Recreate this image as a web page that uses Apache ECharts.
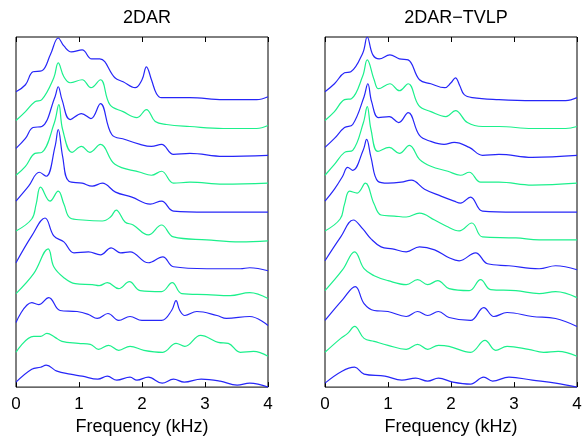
<!DOCTYPE html>
<html>
<head>
<meta charset="utf-8">
<script src="https://cdn.jsdelivr.net/npm/echarts@6/dist/echarts.min.js"></script>
<style>html,body{margin:0;padding:0;background:#fff}#c{width:585px;height:441px}</style>
</head>
<body>
<div id="c"></div>
<script>
// Frequency axis ticks (kHz)
const freqTicks = [0, 1, 2, 3, 4];
const panelTitles = ['2DAR', '2DAR\u2212TVLP'];
const xName = 'Frequency (kHz)';
// Spectra, stacked top (01) to bottom (11): [frequency kHz, level]
const dar01 = [[0,297],[0.15,304],[0.27,317],[0.41,318],[0.55,335],[0.67,351],[0.76,343],[0.88,337],[1.05,339],[1.2,330],[1.33,330],[1.57,311],[1.7,307],[1.89,301],[2.0,309],[2.07,322],[2.15,309],[2.23,295],[2.31,291],[2.76,291],[3.29,289],[3.82,289],[4,292]];
const dar02 = [[0,268],[0.15,277],[0.3,287],[0.41,289],[0.6,311],[0.67,326],[0.76,312],[0.86,306],[1.05,309],[1.19,301],[1.34,309],[1.49,284],[1.7,277],[1.92,271],[2.07,279],[2.21,267],[2.39,264],[2.76,262],[3.29,260],[3.82,260],[4,263]];
const dar03 = [[0,240],[0.15,250],[0.27,261],[0.41,262],[0.62,292],[0.67,302],[0.73,289],[0.86,269],[1.04,275],[1.19,270],[1.34,285],[1.52,254],[1.73,249],[1.97,244],[2.15,242],[2.31,244],[2.5,234],[2.76,235],[3.29,232],[4,233]];
const dar04 = [[0,213],[0.15,222],[0.3,235],[0.41,236],[0.61,266],[0.68,284],[0.74,259],[0.89,236],[1.04,242],[1.17,236],[1.34,244],[1.57,224],[1.97,216],[2.15,213],[2.31,217],[2.5,205],[2.76,206],[3.29,204],[4,205]];
const dar05 = [[0,187],[0.2,202],[0.37,216],[0.48,212],[0.62,242],[0.67,259],[0.74,232],[0.84,207],[1.05,205],[1.21,202],[1.37,205],[1.58,196],[1.84,191],[2.13,184],[2.31,187],[2.5,177],[3.03,176],[3.56,176],[4,176]];
const dar06 = [[0,157],[0.25,169],[0.32,184],[0.39,201],[0.54,187],[0.67,197],[0.76,184],[0.86,170],[1.06,168],[1.37,167],[1.5,171],[1.59,178],[1.73,166],[1.86,163],[2.1,153],[2.31,163],[2.5,151],[3.03,148],[3.56,146],[4,147]];
const dar07 = [[0,125],[0.25,152],[0.46,170],[0.6,152],[0.76,146],[0.92,135],[1.15,136],[1.34,133],[1.51,140],[1.66,135],[1.81,136],[2.1,125],[2.33,131],[2.5,121],[3.03,119],[3.56,119],[3.71,120],[4,117]];
const dar08 = [[0,94],[0.28,114],[0.51,139],[0.6,121],[0.76,110],[0.94,104],[1.21,103],[1.32,102],[1.45,105],[1.63,99],[1.8,106],[1.97,97],[2.31,96],[2.48,105],[2.63,94],[3.03,93],[3.4,92],[3.71,95],[4,89]];
const dar09 = [[0,65],[0.25,85],[0.36,83],[0.52,90],[0.7,77],[0.97,76],[1.15,73],[1.29,69],[1.46,74],[1.63,67],[1.81,71],[2.0,67],[2.31,67],[2.47,77],[2.54,87],[2.6,77],[2.68,72],[2.87,76],[3.19,72],[3.34,69],[3.71,71],[4,62]];
const dar10 = [[0,35],[0.28,51],[0.39,51],[0.49,54],[0.62,50],[0.73,46],[0.99,44],[1.18,43],[1.31,38],[1.47,42],[1.63,37],[1.81,41],[2.03,37],[2.33,35],[2.54,44],[2.68,41],[2.93,52],[3.21,45],[3.37,44],[3.56,35],[3.77,36],[4,31]];
const dar11 = [[0,5],[0.25,18],[0.39,20],[0.48,22],[0.65,16],[0.86,13],[1.05,11],[1.3,8],[1.45,11],[1.6,7],[1.81,10],[1.92,7],[2.1,10],[2.32,4],[2.5,8],[2.67,5],[2.94,8],[3.24,6],[3.51,2],[3.71,4],[4,0]];
const tvlp01 = [[0,297],[0.15,305],[0.31,316],[0.41,317],[0.6,336],[0.67,352],[0.76,334],[0.86,330],[1.03,334],[1.18,330],[1.32,329],[1.5,309],[1.68,305],[1.9,301],[2.0,306],[2.07,311],[2.14,303],[2.21,294],[2.34,291],[2.76,289],[3.29,288],[3.82,288],[4,291]];
const tvlp02 = [[0,268],[0.15,277],[0.31,289],[0.42,290],[0.6,313],[0.67,329],[0.78,309],[0.85,300],[1.03,305],[1.18,298],[1.32,305],[1.49,283],[1.68,277],[1.92,272],[2.07,278],[2.26,266],[2.5,262],[2.76,262],[3.29,260],[3.82,260],[4,262]];
const tvlp03 = [[0,241],[0.15,250],[0.31,261],[0.44,264],[0.62,292],[0.68,305],[0.74,287],[0.85,271],[1.02,272],[1.17,266],[1.32,276],[1.5,253],[1.68,247],[1.89,244],[2.05,246],[2.29,241],[2.5,233],[2.76,234],[3.29,231],[4,233]];
const tvlp04 = [[0,213],[0.15,224],[0.31,236],[0.44,238],[0.61,266],[0.67,282],[0.73,259],[0.84,237],[1.02,241],[1.18,235],[1.34,243],[1.5,229],[1.68,222],[1.95,217],[2.15,213],[2.29,216],[2.47,206],[2.76,206],[3.29,203],[4,205]];
const tvlp05 = [[0,187],[0.15,199],[0.28,212],[0.36,221],[0.44,218],[0.61,239],[0.66,249],[0.73,231],[0.84,207],[1.0,205],[1.21,206],[1.37,208],[1.58,199],[1.84,192],[2.05,187],[2.15,185],[2.31,191],[2.5,177],[3.03,176],[3.56,176],[4,176]];
const tvlp06 = [[0,157],[0.24,169],[0.31,184],[0.39,197],[0.51,195],[0.64,205],[0.78,184],[0.89,173],[1.1,172],[1.29,171],[1.5,175],[1.74,168],[1.92,162],[2.13,157],[2.33,165],[2.5,151],[3.03,150],[3.4,148],[4,148]];
const tvlp07 = [[0,127],[0.25,151],[0.45,168],[0.6,159],[0.73,149],[0.89,141],[1.07,139],[1.29,136],[1.5,141],[1.74,138],[1.97,130],[2.13,127],[2.39,135],[2.58,124],[2.92,122],[3.4,119],[3.66,122],[4,118]];
const tvlp08 = [[0,97],[0.28,118],[0.47,136],[0.62,119],[0.78,112],[1.0,107],[1.29,103],[1.47,108],[1.63,103],[1.79,107],[1.97,99],[2.29,97],[2.47,108],[2.63,98],[3.03,97],[3.4,94],[3.66,96],[4,90]];
const tvlp09 = [[0,67],[0.28,88],[0.48,101],[0.62,84],[0.78,77],[1.0,76],[1.29,71],[1.47,76],[1.63,72],[1.8,76],[1.97,70],[2.31,67],[2.52,80],[2.68,71],[2.89,75],[3.29,71],[3.66,69],[4,61]];
const tvlp10 = [[0,35],[0.25,49],[0.36,54],[0.47,61],[0.62,49],[0.78,46],[1.0,42],[1.29,38],[1.47,43],[1.63,38],[1.8,42],[1.97,41],[2.31,35],[2.54,47],[2.71,37],[2.89,41],[3.23,38],[3.47,35],[3.7,36],[4,31]];
const tvlp11 = [[0,4],[0.27,16],[0.47,20],[0.62,13],[0.95,11],[1.22,7],[1.44,9],[1.63,6],[1.8,9],[2.03,5],[2.31,3],[2.52,10],[2.66,6],[2.92,10],[3.29,7],[3.66,4],[4,0]];

const darFrames = [dar01,dar02,dar03,dar04,dar05,dar06,dar07,dar08,dar09,dar10,dar11];
const tvlpFrames = [tvlp01,tvlp02,tvlp03,tvlp04,tvlp05,tvlp06,tvlp07,tvlp08,tvlp09,tvlp10,tvlp11];

const FONT = 'Liberation Sans, Arial, Helvetica, sans-serif';
const BLUE = '#2626f8', GREEN = '#1cf08c';
const grids = [
  {left: 16, top: 37, width: 252, height: 352},
  {left: 325, top: 37, width: 252, height: 352}
];
const chart = echarts.init(document.getElementById('c'), null, {renderer: 'canvas'});
const xAxes = [], yAxes = [], series = [], titles = [];
grids.forEach((g, i) => {
  titles.push({text: panelTitles[i], left: g.left + g.width / 2, top: 4, textAlign: 'center',
    textStyle: {fontSize: 18, fontWeight: 'normal', color: '#000', fontFamily: FONT}});
  xAxes.push({type: 'value', gridIndex: i, position: 'bottom', min: freqTicks[0], max: freqTicks[freqTicks.length - 1], interval: 1,
    axisLine: {show: false}, axisTick: {inside: true, length: 5, lineStyle: {color: '#000'}},
    axisLabel: {fontSize: 17, color: '#000', margin: 9, fontFamily: FONT},
    splitLine: {show: false},
    name: xName, nameLocation: 'middle', nameGap: 30,
    nameTextStyle: {fontSize: 18, color: '#000', fontFamily: FONT}});
  xAxes.push({type: 'value', gridIndex: i, position: 'top', min: freqTicks[0], max: freqTicks[freqTicks.length - 1], interval: 1,
    axisLine: {show: false}, axisTick: {inside: true, length: 5, lineStyle: {color: '#000'}},
    axisLabel: {show: false}, splitLine: {show: false}});
  yAxes.push({type: 'value', gridIndex: i, min: 0, max: 352, show: false});
  const frames = i === 0 ? darFrames : tvlpFrames;
  frames.forEach((d, k) => {
    series.push({type: 'line', xAxisIndex: i * 2, yAxisIndex: i, data: d, smooth: 0.4,
      symbol: 'none', lineStyle: {width: 1.2, color: k % 2 === 0 ? BLUE : GREEN},
      animation: false, silent: true});
  });
});
chart.setOption({
  animation: false,
  backgroundColor: '#fff',
  title: titles,
  grid: grids.map(g => Object.assign({show: true, borderColor: '#000', borderWidth: 1, backgroundColor: 'transparent'}, g)),
  xAxis: xAxes,
  yAxis: yAxes,
  series: series
});
</script>
</body>
</html>
